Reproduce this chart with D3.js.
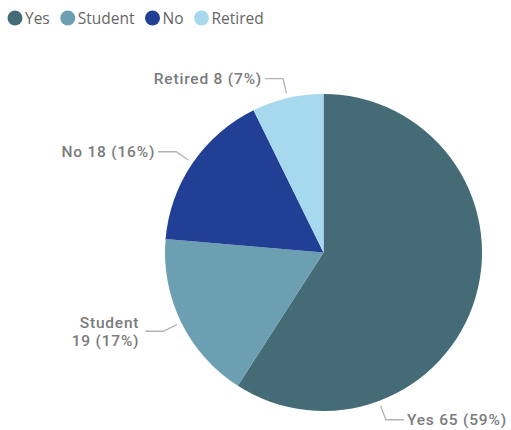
<!DOCTYPE html>
<html>
<head>
<meta charset="utf-8">
<script src="https://cdn.jsdelivr.net/npm/d3@7"></script>
<style>
  html, body { margin: 0; padding: 0; background: #fff; }
  svg { display: block; }
</style>
</head>
<body>
<svg id="chart" width="511" height="430"></svg>
<script>
// Survey answers, drawn clockwise from 12 o'clock
const categories = ["Yes", "Student", "No", "Retired"];
const counts = [65, 19, 18, 8];
const colors = ["#456C76", "#6B9FB1", "#213F95", "#A6D9EE"];
// where along each slice its label sits (0 = start, 1 = end)
const labelAlong = [0.75, 0.5, 0.5, 0.5];

const W = 511, H = 430;
const cx = 323.5, cy = 252.5, R = 158.5;

const svg = d3.select("#chart");
const total = d3.sum(counts);
const data = categories.map((c, i) => ({ cat: c, value: counts[i], color: colors[i], along: labelAlong[i] }));

const pie = d3.pie().value(d => d.value).sort(null);
const arcs = pie(data);
const arc = d3.arc().innerRadius(0).outerRadius(R);

const g = svg.append("g").attr("transform", `translate(${cx},${cy})`);
g.selectAll("path.slice")
  .data(arcs)
  .join("path")
  .attr("class", "slice")
  .attr("d", arc)
  .attr("fill", d => d.data.color);

// leader lines and labels
const pt = (a, r) => [r * Math.sin(a), -r * Math.cos(a)];
const labelFont = "Roboto, 'DejaVu Sans Condensed', sans-serif";
arcs.forEach(d => {
  const a = d.startAngle + (d.endAngle - d.startAngle) * d.data.along;
  const p0 = pt(a, R + 5);
  const p1 = pt(a, R + 20);
  const dir = Math.sin(a) >= 0 ? 1 : -1;
  const p2 = [p1[0] + dir * 18, p1[1]];
  g.append("polyline")
    .attr("points", [p0, p1, p2].map(p => p.join(",")).join(" "))
    .attr("fill", "none")
    .attr("stroke", "#b3b3b3")
    .attr("stroke-width", 1.3);
  const pct = Math.round(d.data.value / total * 100);
  const lines = d.data.cat === "Student"
    ? [d.data.cat, `${d.data.value} (${pct}%)`]
    : [`${d.data.cat} ${d.data.value} (${pct}%)`];
  const t = g.append("text")
    .attr("x", p2[0] + dir * 3)
    .attr("y", p2[1])
    .attr("text-anchor", dir > 0 ? "start" : "end")
    .attr("font-family", labelFont)
    .attr("font-size", 15.5)
    .attr("font-weight", 500)
    .attr("letter-spacing", "0.8px")
    .attr("fill", "#7b7b7b");
  lines.forEach((s, i) => {
    t.append("tspan")
      .attr("x", p2[0] + dir * (lines.length > 1 ? 6 : 3))
      .attr("dy", i === 0 ? ((-(lines.length - 1) * 18) / 2 + 5.5) + "px" : "18px")
      .text(s);
  });
});

// legend
const legend = svg.append("g").attr("transform", "translate(0,18)");
let lx = 15;
data.forEach(d => {
  legend.append("circle").attr("cx", lx).attr("cy", 0).attr("r", 7.5).attr("fill", d.color);
  const txt = legend.append("text")
    .attr("x", lx + 10)
    .attr("y", 5.5)
    .attr("font-family", "'Open Sans', 'Noto Sans', sans-serif")
    .attr("font-size", 15.5)
    .attr("fill", "#666")
    .text(d.cat);
  lx += 10 + txt.node().getComputedTextLength() + 18;
});
</script>
</body>
</html>
